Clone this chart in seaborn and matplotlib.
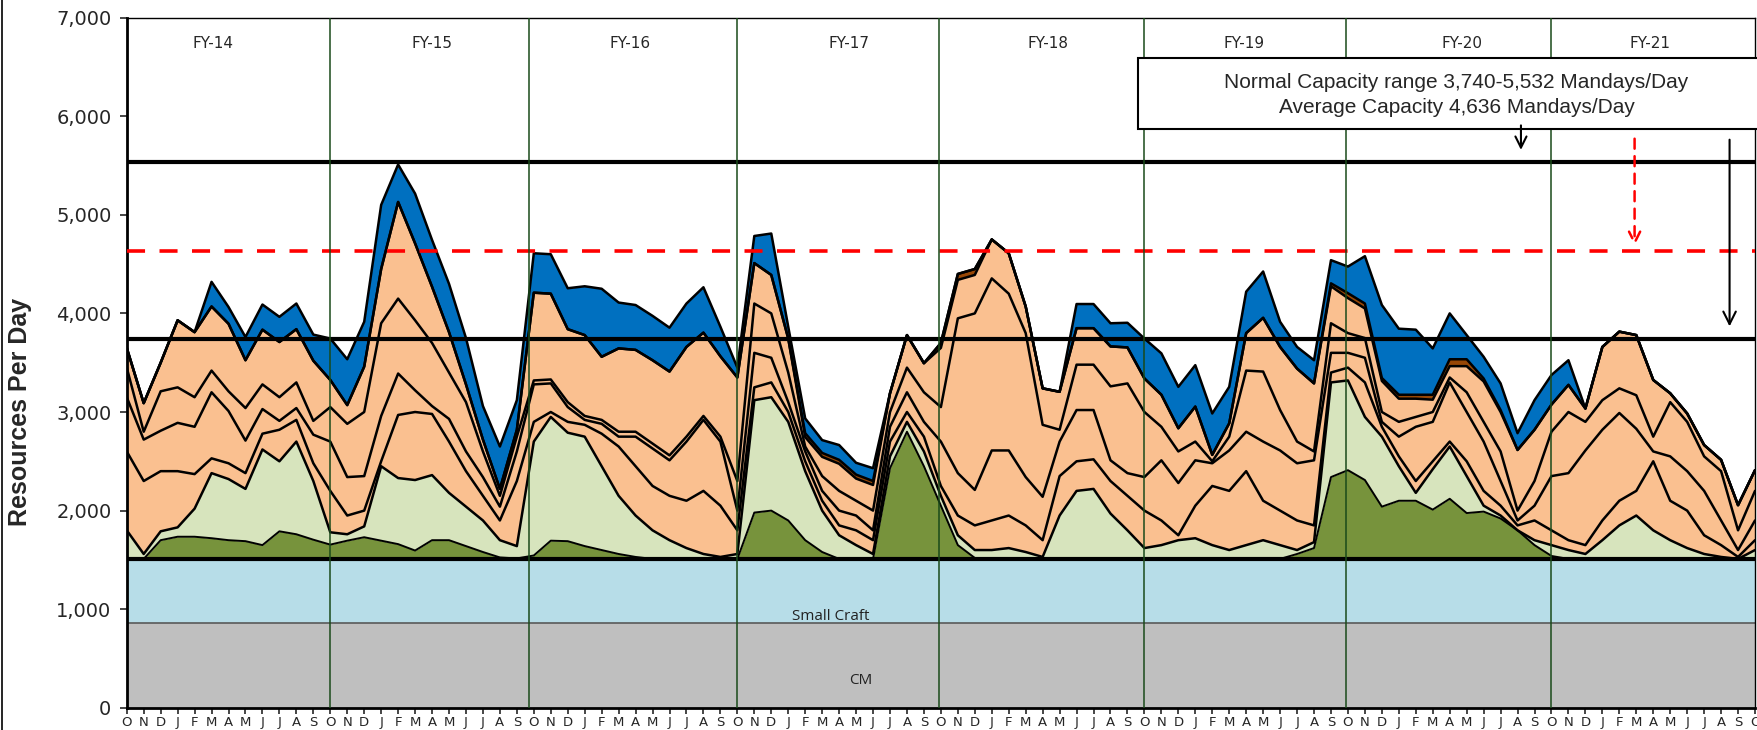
import numpy as np
import pandas as pd
import matplotlib
matplotlib.use("Agg")
import matplotlib.pyplot as plt
import seaborn as sns
from matplotlib.ticker import FuncFormatter
from matplotlib.patches import Rectangle

# month axis: Oct FY-14 .. Oct FY-22
month_letters = list("ONDJFMAMJJAS") * 8 + ["O"]
fy_labels = ["FY-14", "FY-15", "FY-16", "FY-17", "FY-18", "FY-19", "FY-20", "FY-21"]
fy_label_x = [5.1, 18.0, 29.7, 42.6, 54.3, 65.9, 78.7, 89.8]
fy_lines = [12, 23.7, 36, 47.9, 60, 71.9, 84]

cm_top = 865
small_craft_top = 1510
capacity_low = 3740
capacity_high = 5532
capacity_avg = 4636

# tops of each stacked band (resources per day)
dark_green_top = [1510, 1510, 1700, 1735, 1735, 1720, 1700, 1690, 1650, 1790, 1760, 1705,
                  1655, 1695, 1730, 1695, 1660, 1595, 1700, 1700, 1640, 1580, 1525, 1515,
                  1545, 1695, 1690, 1640, 1600, 1560, 1530, 1510, 1510, 1510, 1510, 1510,
                  1510, 1980, 2000, 1900, 1700, 1580, 1510, 1510, 1510, 2430, 2800, 2450,
                  2050, 1650, 1520, 1510, 1510, 1510, 1510, 1510, 1510, 1510, 1510, 1510,
                  1510, 1510, 1510, 1510, 1510, 1510, 1510, 1510, 1510, 1560, 1620, 2340,
                  2410, 2310, 2040, 2100, 2100, 2010, 2120, 1975, 1990, 1920, 1800, 1650,
                  1540, 1510, 1510, 1510, 1510, 1510, 1510, 1510, 1510, 1510, 1510, 1510, 1510]
light_green_top = [1800, 1560, 1790, 1830, 2020, 2380, 2320, 2220, 2620, 2500, 2700, 2300,
                   1780, 1760, 1840, 2450, 2330, 2310, 2360, 2180, 2040, 1900, 1700, 1640,
                   2700, 2950, 2790, 2750, 2450, 2150, 1950, 1800, 1700, 1620, 1560, 1530,
                   1560, 3120, 3150, 2900, 2400, 2000, 1750, 1650, 1560, 2550, 2900, 2600,
                   2150, 1750, 1600, 1600, 1620, 1580, 1530, 1950, 2200, 2220, 1970, 1800,
                   1620, 1650, 1700, 1720, 1650, 1600, 1650, 1700, 1650, 1600, 1680, 3300,
                   3320, 2950, 2750, 2450, 2180, 2420, 2650, 2350, 2050, 1950, 1800, 1700,
                   1650, 1600, 1560, 1700, 1850, 1950, 1800, 1700, 1620, 1560, 1530, 1510, 1600]
peach_a_top = [2600, 2300, 2400, 2400, 2370, 2530, 2480, 2380, 2780, 2820, 2920, 2480,
               2200, 1950, 2000, 2500, 2970, 3000, 2980, 2700, 2400, 2150, 1900, 2300,
               2900, 3000, 2900, 2870, 2780, 2650, 2450, 2250, 2150, 2100, 2200, 2050,
               1800, 3250, 3300, 3000, 2500, 2100, 1850, 1800, 1700, 2700, 3000, 2750,
               2250, 1950, 1850, 1900, 1950, 1850, 1700, 2350, 2500, 2520, 2300, 2150,
               2000, 1900, 1750, 2050, 2250, 2200, 2400, 2100, 2000, 1900, 1850, 3400,
               3450, 3300, 2850, 2550, 2300, 2500, 2700, 2500, 2200, 2050, 1850, 1900,
               1800, 1700, 1650, 1900, 2100, 2200, 2500, 2100, 2000, 1750, 1650, 1530, 1700]
peach_b_top = [3150, 2720, 2810, 2890, 2850, 3200, 3010, 2710, 3030, 2910, 3040, 2770,
               2700, 2340, 2350, 2960, 3390, 3220, 3060, 2930, 2600, 2340, 2040, 2600,
               3280, 3290, 3050, 2920, 2880, 2750, 2750, 2630, 2510, 2700, 2920, 2700,
               2000, 3600, 3550, 3100, 2600, 2200, 2000, 1950, 1800, 2850, 3200, 2900,
               2700, 2380, 2210, 2610, 2610, 2340, 2140, 2700, 3020, 3020, 2510, 2380,
               2340, 2510, 2280, 2510, 2480, 2610, 2800, 2700, 2610, 2480, 2510, 3600,
               3600, 3550, 2900, 2750, 2850, 2900, 3300, 3000, 2700, 2300, 1900, 2050,
               2350, 2380, 2610, 2820, 2990, 2830, 2600, 2550, 2400, 2200, 1900, 1600, 1900]
peach_c_top = [3450, 2800, 3210, 3250, 3150, 3420, 3210, 3040, 3280, 3150, 3300, 2910,
               3050, 2880, 3000, 3900, 4150, 3930, 3700, 3400, 3100, 2600, 2150, 2750,
               3320, 3330, 3100, 2960, 2920, 2800, 2800, 2680, 2560, 2750, 2960, 2750,
               2300, 4100, 4000, 3400, 2650, 2350, 2200, 2100, 2000, 3000, 3450, 3200,
               3050, 3950, 4000, 4355, 4200, 3800, 2870, 2820, 3480, 3480, 3260, 3290,
               3000, 2850, 2600, 2700, 2500, 2750, 3420, 3410, 3020, 2700, 2600, 3900,
               3800, 3750, 3000, 2900, 2950, 3000, 3350, 3200, 2900, 2600, 2000, 2300,
               2800, 3000, 2900, 3120, 3240, 3170, 2750, 3100, 2900, 2550, 2400, 1800, 2200]
peach_top = [3650, 3090, 3500, 3930, 3810, 4070, 3895, 3525, 3835, 3710, 3840, 3520,
             3325, 3070, 3460, 4450, 5130, 4710, 4270, 3810, 3280, 2720, 2220, 2820,
             4210, 4200, 3840, 3780, 3560, 3645, 3630, 3525, 3410, 3660, 3805, 3565,
             3350, 4510, 4390, 3745, 2745, 2545, 2475, 2325, 2260, 3190, 3780, 3495,
             3650, 4340, 4390, 4750, 4610, 4070, 3240, 3205, 3850, 3850, 3665, 3655,
             3340, 3175, 2835, 3055, 2565, 2885, 3800, 3955, 3660, 3440, 3290, 4275,
             4155, 4050, 3315, 3135, 3135, 3125, 3465, 3465, 3310, 3000, 2615, 2820,
             3075, 3275, 3035, 3660, 3815, 3780, 3325, 3190, 2985, 2665, 2515, 2055, 2410]
brown_top = [3650, 3090, 3500, 3930, 3810, 4070, 3895, 3525, 3835, 3710, 3840, 3520,
             3325, 3070, 3460, 4450, 5130, 4710, 4270, 3810, 3280, 2720, 2220, 2820,
             4210, 4200, 3840, 3780, 3560, 3645, 3630, 3525, 3410, 3660, 3805, 3565,
             3350, 4510, 4390, 3745, 2785, 2585, 2515, 2365, 2300, 3190, 3780, 3495,
             3700, 4400, 4450, 4750, 4610, 4070, 3240, 3205, 3850, 3850, 3665, 3655,
             3340, 3175, 2835, 3055, 2565, 2885, 3800, 3955, 3660, 3440, 3290, 4305,
             4205, 4100, 3345, 3175, 3175, 3175, 3535, 3535, 3340, 3020, 2615, 2820,
             3075, 3275, 3035, 3660, 3815, 3780, 3325, 3190, 2985, 2665, 2515, 2055, 2410]
total_top = [3650, 3090, 3500, 3930, 3810, 4320, 4065, 3760, 4090, 3965, 4100, 3785,
             3745, 3535, 3915, 5100, 5510, 5215, 4745, 4300, 3750, 3060, 2650, 3120,
             4610, 4600, 4255, 4275, 4250, 4110, 4085, 3975, 3855, 4100, 4265, 3865,
             3450, 4785, 4810, 3865, 2935, 2715, 2665, 2485, 2430, 3190, 3780, 3495,
             3700, 4400, 4450, 4750, 4610, 4070, 3240, 3205, 4095, 4095, 3900, 3905,
             3745, 3595, 3255, 3475, 2985, 3255, 4220, 4425, 3915, 3660, 3525, 4540,
             4475, 4580, 4085, 3845, 3835, 3645, 4000, 3780, 3560, 3290, 2785, 3120,
             3375, 3525, 3035, 3660, 3815, 3780, 3325, 3190, 2985, 2665, 2515, 2055, 2410]

months = np.arange(len(month_letters))
n = len(months)

bands = pd.DataFrame({
    "month": months,
    "cm": np.full(n, cm_top),
    "small_craft": np.full(n, small_craft_top),
    "dark_green": dark_green_top,
    "light_green": light_green_top,
    "peach_a": peach_a_top,
    "peach_b": peach_b_top,
    "peach_c": peach_c_top,
    "peach": peach_top,
    "brown": brown_top,
    "blue": total_top,
})
order = ["cm", "small_craft", "dark_green", "light_green", "peach_a", "peach_b",
         "peach_c", "peach", "brown", "blue"]
# keep the boundaries stacked
bands[order] = np.maximum.accumulate(bands[order].to_numpy(dtype=float), axis=1)

colors = {"cm": "#BFBFBF", "small_craft": "#B7DDE8", "dark_green": "#77933C",
          "light_green": "#D7E4BD", "peach_a": "#FAC090", "peach_b": "#FAC090",
          "peach_c": "#FAC090", "peach": "#FAC090", "brown": "#974706", "blue": "#0070C0"}

sns.set_style("white")
plt.rcParams["font.family"] = ["DejaVu Sans"]

fig = plt.figure(figsize=(17.58, 7.30), dpi=100)
ax = fig.add_axes([0.0721, 0.0304, 0.9262, 0.9455])

prev = np.zeros(n)
for name in order:
    top = bands[name].to_numpy()
    ax.fill_between(months, prev, top, color=colors[name], linewidth=0, zorder=1)
    prev = top

# band outlines
ax.plot(months, bands["cm"], color="#595959", lw=1.2, zorder=2)
for name in order[3:]:
    sns.lineplot(x=bands["month"], y=bands[name], color="black", lw=1.8, ax=ax, zorder=3)
sns.lineplot(x=bands["month"], y=bands["dark_green"], color="black", lw=1.4, ax=ax, zorder=3)
ax.axhline(small_craft_top, color="black", lw=3, zorder=4)

# capacity lines
ax.axhline(capacity_high, color="black", lw=3, zorder=5)
ax.axhline(capacity_low, color="black", lw=3, zorder=5)
ax.axhline(capacity_avg, color="red", lw=2.6, ls=(0, (5, 4)), zorder=5)

for xv in fy_lines:
    ax.axvline(xv, color="#1A4A1A", lw=1.1, zorder=6)

for lbl, xv in zip(fy_labels, fy_label_x):
    ax.text(xv, 6740, lbl, ha="center", va="center", fontsize=11, zorder=7)

# capacity note
box = Rectangle((59.6, 5870), 45, 720, fill=True, facecolor="white", edgecolor="black",
                lw=1.5, clip_on=False, zorder=8)
ax.add_patch(box)
note_font = ["Liberation Sans Narrow", "Liberation Sans", "DejaVu Sans"]
ax.text(78.4, 6345, "Normal Capacity range 3,740-5,532 Mandays/Day", ha="center",
        va="center", fontsize=15, family=note_font, zorder=9)
ax.text(78.4, 6090, "Average Capacity 4,636 Mandays/Day", ha="center", va="center",
        fontsize=15, family=note_font, zorder=9)

ax.annotate("", xy=(82.2, 5630), xytext=(82.2, 5935),
            arrowprops=dict(arrowstyle="->,head_length=0.8,head_width=0.4", color="black", lw=1.5),
            zorder=9)
ax.annotate("", xy=(88.9, 4660), xytext=(88.9, 5800),
            arrowprops=dict(arrowstyle="->,head_length=0.8,head_width=0.4", color="red",
                            lw=1.8, ls=(0, (4, 3))), zorder=9)
ax.annotate("", xy=(94.5, 3840), xytext=(94.5, 5790),
            arrowprops=dict(arrowstyle="->,head_length=0.9,head_width=0.45", color="black", lw=1.5),
            zorder=9)

ax.text(41.5, 930, "Small Craft", ha="center", va="center", fontsize=11,
        family=["Open Sans", "DejaVu Sans"], color="#222222", zorder=7)
ax.text(43.3, 280, "CM", ha="center", va="center", fontsize=11,
        family=["Open Sans", "DejaVu Sans"], color="#222222", zorder=7)

ax.set_xlim(0, 96)
ax.set_ylim(0, 7000)
ax.set_yticks(np.arange(0, 7001, 1000))
ax.yaxis.set_major_formatter(FuncFormatter(lambda v, p: f"{int(v):,}"))
ax.set_xticks(months)
ax.set_xticklabels(month_letters, fontsize=9.5)
ax.tick_params(axis="y", labelsize=14, length=5, width=1.2, direction="out", left=True, pad=6)
ax.tick_params(axis="x", length=4, width=1.2, direction="out", bottom=True, pad=2)
ax.set_xlabel("")
ax.set_ylabel("")
for side in ["left", "bottom"]:
    ax.spines[side].set_linewidth(2)
    ax.spines[side].set_color("black")
for side in ["top", "right"]:
    ax.spines[side].set_linewidth(1)
    ax.spines[side].set_color("black")

fig.text(0.0112, 0.436, "Resources Per Day", rotation=90, ha="center", va="center",
         fontsize=18, fontweight="bold", family=["Liberation Sans", "DejaVu Sans"])
fig.add_artist(plt.Line2D([0.0014, 0.0014], [0, 1], color="black", lw=1.2))

fig.savefig("out.png", dpi=100)
